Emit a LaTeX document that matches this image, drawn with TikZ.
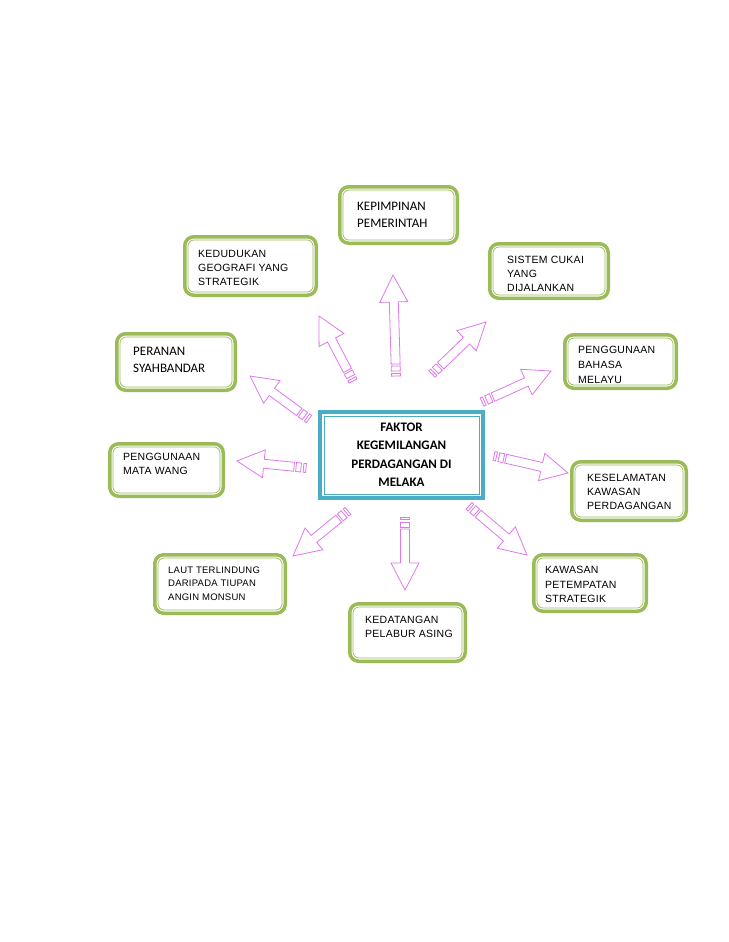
\documentclass[tikz,border=0pt]{standalone}
\usepackage{fontspec}
\setmainfont{Liberation Sans}
\newfontfamily\calfont{Carlito}
\newfontfamily\arialfont[LetterSpace=2.5]{Liberation Sans}
\definecolor{boxgreen}{RGB}{155,187,89}
\definecolor{cblue}{RGB}{75,172,198}
\definecolor{arrowpink}{RGB}{222,120,235}
\tikzset{
  gouter/.style={draw=boxgreen,line width=3.5pt,rounded corners=9pt},
  ginner/.style={draw=boxgreen,line width=0.7pt,rounded corners=6pt},
  bouter/.style={draw=cblue,line width=3.6pt},
  binner/.style={draw=cblue,line width=0.8pt},
  arr/.style={draw=arrowpink,line width=0.8pt,line join=miter},
  ctext/.style={inner sep=0pt,anchor=north west,align=left,font=\calfont\fontsize{13}{17}\selectfont},
  atext/.style={inner sep=0pt,anchor=north west,align=left},
}
\newcommand\gbox[5]{%
  \draw[gouter] (#2+1.75,#3+1.75) rectangle (#4-1.75,#5-1.75);
  \draw[ginner] (#2+5,#3+5) rectangle (#4-5,#5-5);
  \coordinate (#1) at ({(#2+#4)/2},{(#3+#5)/2});}
\newcommand\sarrow[4]{%
  \pgfmathsetmacro\sang{atan2(#2-#4,#3-#1)}%
  \pgfmathsetmacro\slen{veclen(#3-#1,#4-#2)}%
  \begin{scope}[shift={(#1,#2)},rotate=\sang]
    \draw[arr] (0,-4.5) rectangle (2.5,4.5);
    \draw[arr] (5,-4.5) rectangle (10,4.5);
    \draw[arr] (12,-4.5) -- ({\slen-27},-4.5) -- ({\slen-27},-14) -- (\slen,0)
      -- ({\slen-27},14) -- ({\slen-27},4.5) -- (12,4.5) -- cycle;
  \end{scope}}
\begin{document}
\begin{tikzpicture}[x=1pt,y=-1pt]
\useasboundingbox[fill=white] (0,0) rectangle (728,942);
% boxes
\gbox{b1}{338}{185}{459}{245}
\node[ctext] (t1) at (357,201.8) {KEPIMPINAN\\PEMERINTAH};
\gbox{b2}{183}{235}{318}{297}
\node[atext,font=\arialfont\fontsize{10.5}{14}\selectfont] (t2) at (198,250.2) {KEDUDUKAN\\GEOGRAFI YANG\\STRATEGIK};
\gbox{b3}{488}{242}{610}{300}
\node[atext,font=\arialfont\fontsize{10.5}{14}\selectfont] (t3) at (507,256.2) {SISTEM CUKAI\\YANG\\DIJALANKAN};
\gbox{b4}{115}{332}{237}{392}
\node[ctext] (t4) at (133,346.8) {PERANAN\\SYAHBANDAR};
\gbox{b5}{563}{333}{678}{390}
\node[atext,font=\arialfont\fontsize{10.5}{15}\selectfont] (t5) at (578,346.2) {PENGGUNAAN\\BAHASA\\MELAYU};
\gbox{b7}{108}{442}{225}{498}
\node[atext,font=\arialfont\fontsize{10.5}{14}\selectfont] (t7) at (123,453.2) {PENGGUNAAN\\MATA WANG};
\gbox{b8}{570}{460}{688}{522}
\node[atext,font=\arialfont\fontsize{10.5}{14}\selectfont] (t8) at (587,474.2) {KESELAMATAN\\KAWASAN\\PERDAGANGAN};
\gbox{b9}{153}{553}{287}{615}
\node[atext,font=\arialfont\fontsize{9.5}{13.5}\selectfont] (t9) at (168,566.6) {LAUT TERLINDUNG\\DARIPADA TIUPAN\\ANGIN MONSUN};
\gbox{b10}{532}{553}{648}{613}
\node[atext,font=\arialfont\fontsize{10.5}{14.5}\selectfont] (t10) at (545,566.2) {KAWASAN\\PETEMPATAN\\STRATEGIK};
\gbox{b11}{348}{602}{467}{663}
\node[atext,font=\arialfont\fontsize{10.5}{14}\selectfont] (t11) at (365,616.2) {KEDATANGAN\\PELABUR ASING};
% centre box
\draw[bouter] (318+1.8,410+1.8) rectangle (485-1.8,500-1.8);
\draw[binner] (318+6,410+6) rectangle (485-6,500-6);
\node[inner sep=0pt,anchor=north,align=center,font=\calfont\bfseries\fontsize{13}{18.3}\selectfont] (c) at (401.5,422.8) {FAKTOR\\KEGEMILANGAN\\PERDAGANGAN DI\\MELAKA};
% arrows
\sarrow{396}{376}{393}{275}
\sarrow{353}{381}{319}{316}
\sarrow{432}{374}{486}{322}
\sarrow{309}{419}{250}{376}
\sarrow{482}{402}{551}{371}
\sarrow{306}{468}{237}{461}
\sarrow{494}{456}{568}{473}
\sarrow{348}{511}{293}{556}
\sarrow{405}{517}{405}{590}
\sarrow{469}{506}{527}{555}
\end{tikzpicture}
\end{document}
